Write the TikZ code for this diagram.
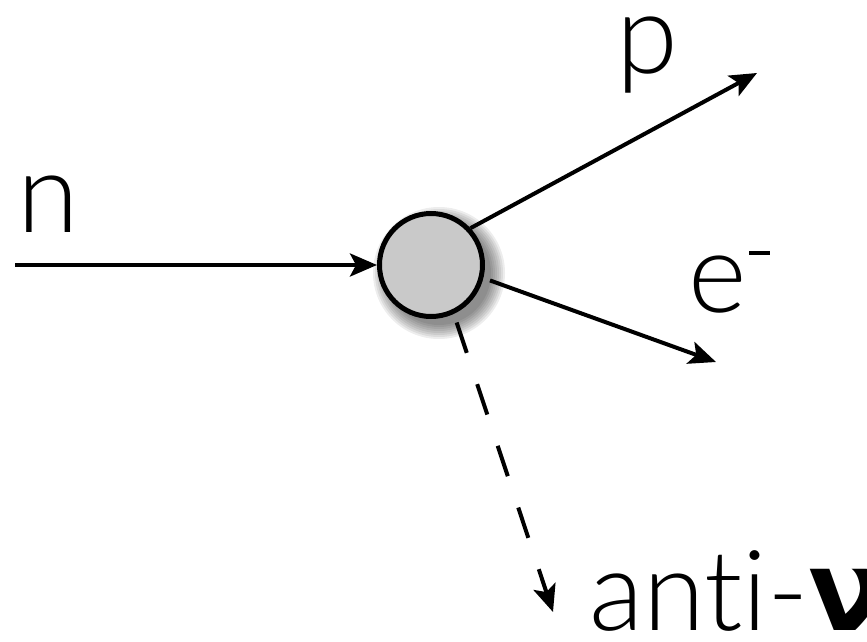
\documentclass[tikz,border=0pt]{standalone}
\usepackage{fontspec}
\setmainfont{Lato}[UprightFont=* Light, Ligatures=NoCommon]
\newfontfamily\gk{DejaVu Sans}
\usetikzlibrary{arrows.meta}
\begin{document}
\begin{tikzpicture}[x=1pt,y=-1pt, line width=4pt,
  arr/.style={-{Stealth[length=27pt,width=23pt,inset=6pt]}},
  lbl/.style={anchor=base west, inner sep=0pt, font=\fontsize{112}{112}\selectfont},
  vertex/.style={circle, draw, line width=5pt, fill=black!21, minimum size=103pt, inner sep=0pt}]
\useasboundingbox (0,0) rectangle (867,642);
% blurred drop shadow
\foreach \r in {66,64,...,52} \fill[black,opacity=0.07] (439,273) circle [radius=\r pt];
\node[vertex] (v) at (431,265) {};
\coordinate (nstart) at (15,265);
\coordinate (ptip) at (757,73);
\coordinate (etip) at (716,362);
\coordinate (nutip) at (553,612);
\draw[arr] (nstart) -- (v.west);
\draw[arr] (v.43) -- (ptip);
\draw[arr, shorten <=7pt] (v.-14) -- (etip);
\draw[arr, shorten <=9pt, dash pattern=on 32pt off 33pt] (v.-65) -- (nutip);
\node[lbl] (ln) at (15,232) {n};
\node[lbl] (lp) at (614,74) {p};
\node[lbl] (le) at (686,312) {e\hspace{3pt}\raisebox{57pt}{\rule{21pt}{4.5pt}}};
\node[lbl] (lnu) at (587,630) {ant{}i-{\gk\bfseries ν}};
\end{tikzpicture}
\end{document}
